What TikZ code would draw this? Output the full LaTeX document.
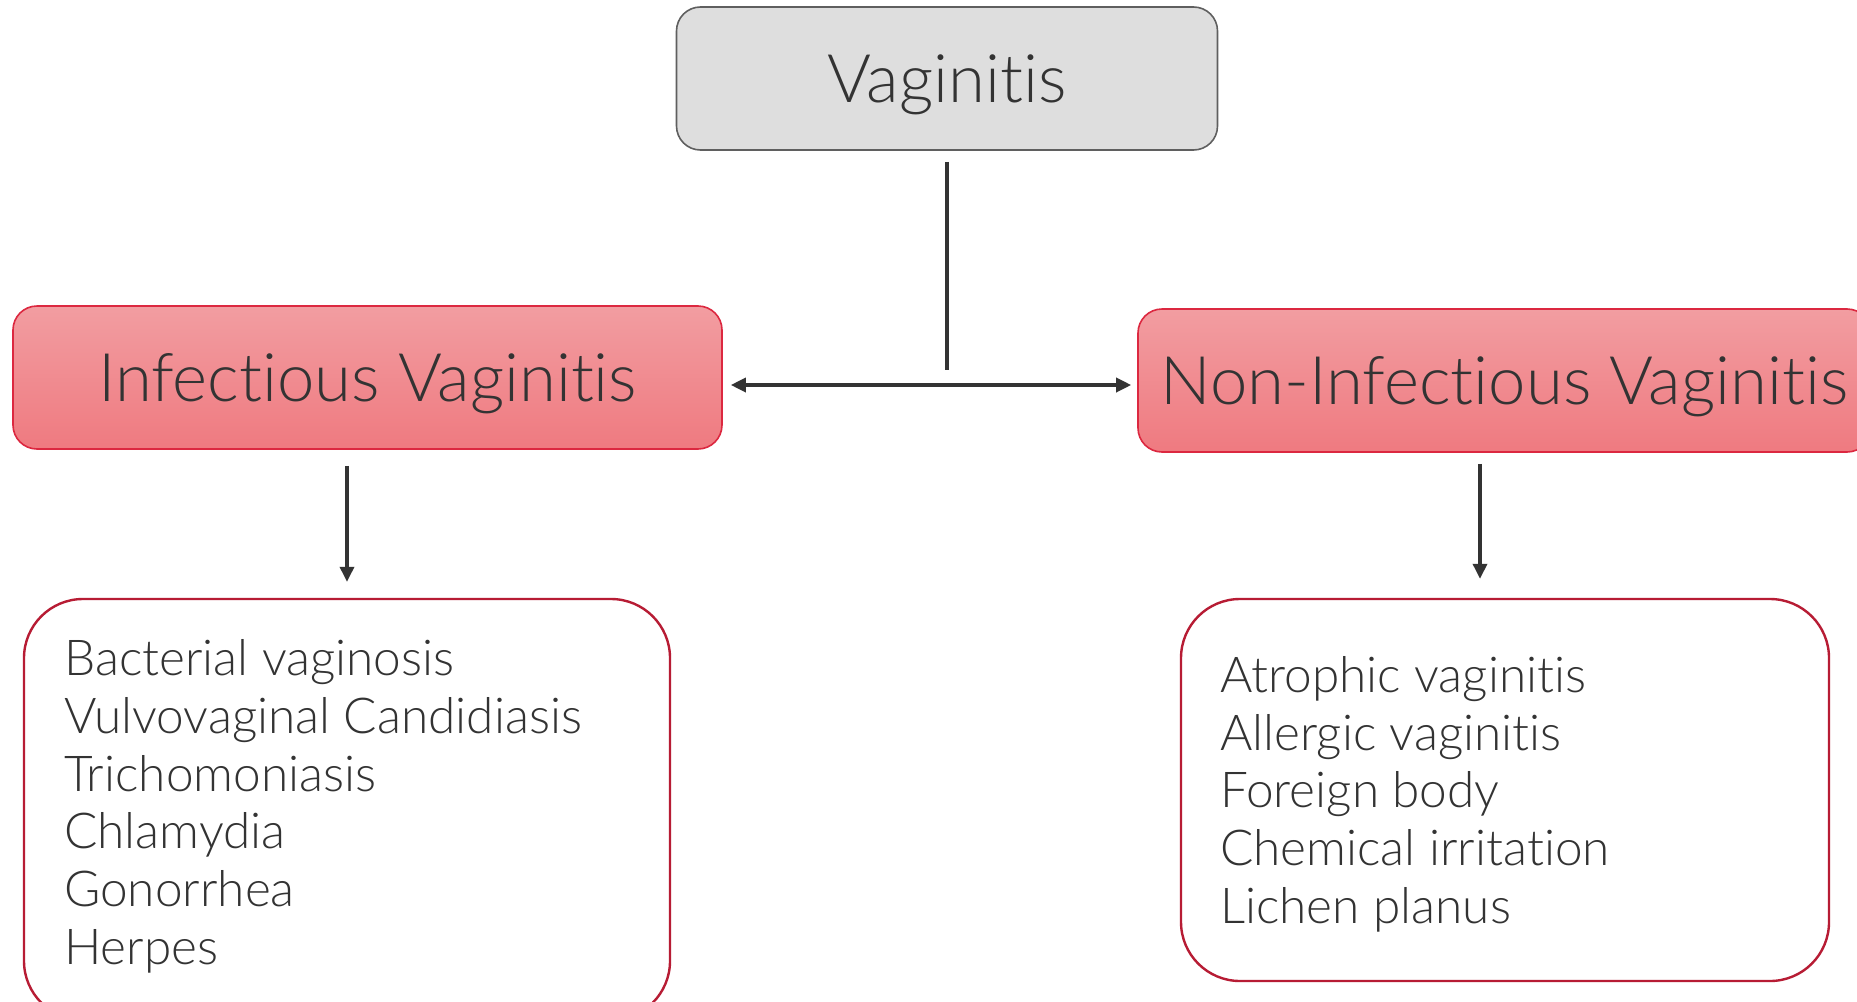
\documentclass[tikz,border=0pt]{standalone}
\usepackage{fontspec}
\setmainfont{Lato}[UprightFont={* Light}, Ligatures={NoCommon}]
\usetikzlibrary{arrows.meta}
\definecolor{txt}{HTML}{333333}
\definecolor{grayfill}{HTML}{DEDEDE}
\definecolor{grayline}{HTML}{5F5F5F}
\definecolor{redtop}{HTML}{F29DA1}
\definecolor{redbot}{HTML}{EF7A80}
\definecolor{redline}{HTML}{DC2840}
\definecolor{listline}{HTML}{B71C34}
\tikzset{
  headbox/.style={rounded corners=24pt, line width=1.6pt, minimum height=143pt, inner sep=0pt,
    text=txt, text height=47.5pt, text depth=0pt, font=\fontsize{67}{72}\selectfont},
  catbox/.style={headbox, top color=redtop, bottom color=redbot, draw=redline},
  listbox/.style={draw=listline, line width=2.4pt, rounded corners=59pt, fill=white, inner sep=0pt},
  item/.style={anchor=base west, inner sep=0pt, text=txt, font=\fontsize{49.5}{57.6}\selectfont},
  conn/.style={draw=txt, line width=3.4pt},
  arr/.style={conn, -{Triangle[length=15pt,width=14pt]}},
  darr/.style={conn, {Triangle[length=15pt,width=14pt]}-{Triangle[length=15pt,width=14pt]}}
}
\begin{document}
\begin{tikzpicture}[x=1pt,y=-1pt]
\useasboundingbox (0,0) rectangle (1857,1001);
\clip (0,0) rectangle (1857,1001);
\fill[white] (0,0) rectangle (1857,1001);

\node[headbox, draw=grayline, fill=grayfill, minimum width=541pt] (vag) at (947,78.5) {Vaginitis};
\node[catbox, minimum width=709pt] (inf) at (367.5,377.5) {Infectious Vaginitis};
\node[catbox, minimum width=733pt] (non) at (1504.5,380.5) {Non-Infectious Vaginitis};

\node[listbox, minimum width=646pt, minimum height=421pt] (infl) at (347,809.5) {};
\node[listbox, minimum width=648pt, minimum height=382pt] (nonl) at (1505,790) {};

\node[item] (i1) at (64,675.5) {Bacterial vaginosis};
\node[item] (i2) at (64,733) {Vulvovaginal Candidiasis};
\node[item] (i3) at (64,791) {Trichomoniasis};
\node[item] (i4) at (64,848) {Chlamydia};
\node[item] (i5) at (64,906) {Gonorrhea};
\node[item] (i6) at (64,964) {Herpes};

\node[item] (n1) at (1220,692) {Atrophic vaginitis};
\node[item] (n2) at (1220,750) {Allergic vaginitis};
\node[item] (n3) at (1220,807) {Foreign body};
\node[item] (n4) at (1220,865) {Chemical irritation};
\node[item] (n5) at (1220,923) {Lichen planus};

\coordinate (hub) at (947,385);
\coordinate (stem) at (947,370);
\draw[conn] ([yshift=-11pt]vag.south -| stem) -- (stem);
\draw[darr] ([xshift=8pt]inf.east |- hub) -- ([xshift=-6pt]non.west |- hub);
\draw[arr] ([yshift=-16pt]infl.north |- inf.south) -- ([yshift=16pt]infl.north);
\draw[arr] ([xshift=-25pt,yshift=-11pt]nonl.north |- non.south) -- ([xshift=-25pt,yshift=19pt]nonl.north);
\end{tikzpicture}
\end{document}
